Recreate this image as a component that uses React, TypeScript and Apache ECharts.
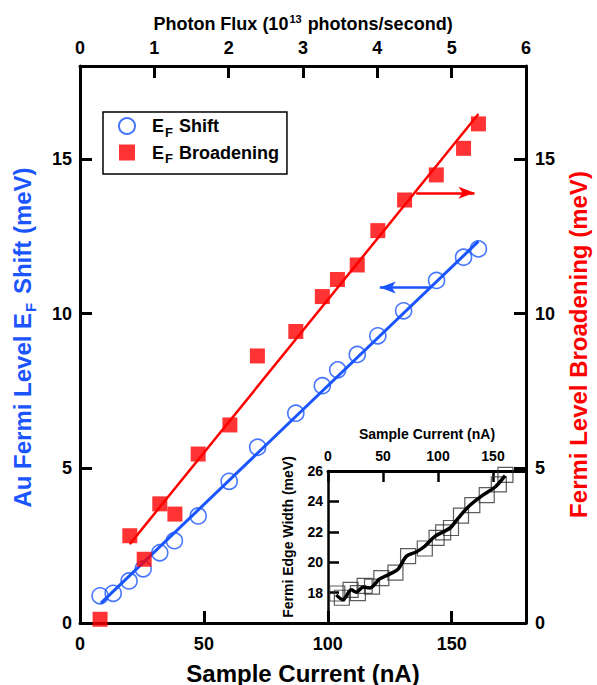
import React, { useEffect, useRef } from 'react';
import * as echarts from 'echarts';

// ---- data ----
// main panel: sample current (nA)
const shiftCurrent = [8.1, 13.4, 19.8, 25.5, 32.2, 38.1, 47.7, 60.2, 71.7, 87.1, 97.8, 104.0, 111.9, 120.2, 130.6, 143.9, 154.8, 160.8];
const efShift = [0.88, 0.96, 1.36, 1.75, 2.27, 2.66, 3.46, 4.58, 5.68, 6.78, 7.67, 8.18, 8.68, 9.28, 10.09, 11.07, 11.82, 12.09];
const broadeningCurrent = [8.1, 20.1, 25.9, 32.2, 38.3, 47.7, 60.5, 71.6, 87.1, 97.8, 103.9, 111.9, 120.2, 131.0, 143.8, 154.8, 160.8];
const efBroadening = [0.12, 2.82, 2.06, 3.85, 3.52, 5.46, 6.4, 8.63, 9.42, 10.55, 11.1, 11.57, 12.68, 13.67, 14.48, 15.34, 16.13];
// linear fits
const shiftFitX = [8.45, 160.8];
const shiftFitY = [0.64, 12.33];
const broadFitX = [20.1, 160.8];
const broadFitY = [2.55, 16.45];
// arrows pointing at the relevant axis
const shiftArrowX = [141.8, 121.0];
const shiftArrowY = 10.84;
const broadArrowX = [135.7, 159.2];
const broadArrowY = 13.9;
// inset: Fermi edge width (meV)
const insetCurrent = [8.4, 12.6, 20.5, 27.2, 33.3, 40.0, 48.5, 61.3, 72.8, 88.0, 98.7, 104.7, 111.8, 120.9, 131.2, 144.3, 155.3, 161.3];
const edgeWidth = [17.94, 17.66, 18.18, 17.96, 18.44, 18.39, 18.95, 19.32, 20.40, 20.90, 21.60, 21.96, 22.25, 23.06, 23.76, 24.41, 25.12, 25.75];
const trendCurrent = [7.5, 13.5, 21.2, 25.7, 31.8, 37.9, 47.0, 57.7, 63.7, 71.4, 80.5, 88.0, 97.2, 110.9, 118.4, 127.6, 139.8, 151.9, 161.0];
const trendWidth = [17.85, 17.53, 18.18, 18.03, 18.35, 18.31, 18.9, 19.28, 19.54, 20.40, 20.69, 21.05, 21.7, 22.25, 22.9, 23.65, 24.36, 24.95, 25.7];

const FONT = "'Liberation Sans', Arial, Helvetica, sans-serif";
const BLUE = '#1a55ff';
const RED = '#ff0000';

const zip = (xs: number[], ys: number[]) => xs.map((x, i) => [x, ys[i]]);

export default function App() {
  const ref = useRef<HTMLDivElement>(null);
  useEffect(() => {
    const chart = echarts.init(ref.current!, null, { renderer: 'svg' });
    const axisLine = (w: number) => ({ show: true, onZero: false, lineStyle: { color: '#000', width: w } });
    const tick = (len: number, w: number) => ({ show: true, inside: true, length: len, lineStyle: { color: '#000', width: w } });
    const lbl = (size: number, margin: number, fmt: (v: number) => string) => ({
      show: true, color: '#000', fontSize: size, fontWeight: 'bold', fontFamily: FONT, margin, formatter: fmt,
      showMinLabel: true, showMaxLabel: true,
    });
    const big = { fontSize: 24, fontWeight: 'bold', fontFamily: FONT };
    const option: any = {
      animation: false,
      backgroundColor: '#fff',
      textStyle: { fontFamily: FONT },
      grid: [
        { left: 80, top: 66, width: 446, height: 557, outerBoundsMode: 'none', containLabel: false },
        { left: 328, top: 471, width: 198, height: 152, outerBoundsMode: 'none', containLabel: false },
      ],
      xAxis: [
        {
          gridIndex: 0, type: 'value', position: 'bottom', min: 0, max: 180, interval: 50,
          axisLine: axisLine(3), axisTick: tick(12, 3), splitLine: { show: false },
          axisLabel: lbl(18, 12, (v) => (v % 50 === 0 ? String(v) : '')),
          name: 'Sample Current (nA)', nameLocation: 'middle', nameGap: 38, nameMoveOverlap: false,
          nameTextStyle: { ...big, color: '#000' },
        },
        {
          gridIndex: 0, type: 'value', position: 'top', min: 0, max: 6, interval: 1,
          axisLine: axisLine(3), axisTick: tick(12, 3), splitLine: { show: false },
          axisLabel: lbl(18, 9, (v) => String(v)),
          name: '{a|Photon Flux (10}{p|13}{a| photons/second)}', nameLocation: 'middle', nameGap: 32, nameMoveOverlap: false,
          nameTextStyle: {
            color: '#000',
            rich: {
              a: { fontSize: 18, fontWeight: 'bold', fontFamily: FONT, color: '#000' },
              p: { fontSize: 11, fontWeight: 'bold', fontFamily: FONT, color: '#000', padding: [0, 1, 10, 1] },
            },
          },
        },
        {
          gridIndex: 1, type: 'value', position: 'top', min: 0, max: 180, interval: 50,
          axisLine: axisLine(3), axisTick: tick(11, 2.5), splitLine: { show: false },
          axisLabel: lbl(14, 8, (v) => (v % 50 === 0 ? String(v) : '')),
          name: 'Sample Current (nA)', nameLocation: 'middle', nameGap: 30, nameMoveOverlap: false,
          nameTextStyle: { fontSize: 14, fontWeight: 'bold', fontFamily: FONT, color: '#000' },
        },
      ],
      yAxis: [
        {
          gridIndex: 0, type: 'value', position: 'left', min: 0, max: 18, interval: 5,
          axisLine: axisLine(3), axisTick: tick(12, 3), splitLine: { show: false },
          axisLabel: lbl(18, 8, (v) => (v % 5 === 0 ? String(v) : '')),
          name: '{a|Au Fermi Level E}{s|F}{a| Shift (meV)}', nameLocation: 'middle', nameGap: 42, nameMoveOverlap: false,
          nameTextStyle: {
            color: BLUE, padding: [0, 0, 0, 14],
            rich: {
              a: { ...big, color: BLUE },
              s: { fontSize: 15, fontWeight: 'bold', fontFamily: FONT, color: BLUE, padding: [16, 2, 0, 1] },
            },
          },
        },
        {
          gridIndex: 0, type: 'value', position: 'right', min: 0, max: 18, interval: 5,
          axisLine: axisLine(3), axisTick: tick(12, 3), splitLine: { show: false },
          axisLabel: lbl(18, 9, (v) => (v % 5 === 0 ? String(v) : '')),
          name: 'Fermi Level Broadening (meV)', nameLocation: 'middle', nameGap: 40, nameMoveOverlap: false,
          nameTextStyle: { ...big, color: RED },
        },
        {
          gridIndex: 1, type: 'value', position: 'left', min: 16, max: 26, interval: 2,
          axisLine: axisLine(2.5), axisTick: tick(11, 2.5), splitLine: { show: false },
          axisLabel: lbl(14, 5, (v) => (v >= 18 ? String(v) : '')),
          name: 'Fermi Edge Width (meV)', nameLocation: 'middle', nameGap: 33, nameMoveOverlap: false,
          nameTextStyle: { fontSize: 14, fontWeight: 'bold', fontFamily: FONT, color: '#000', padding: [0, 0, 0, 20] },
        },
      ],
      legend: {
        show: true, orient: 'vertical', left: 103, top: 112, padding: [5, 8, 9, 15], itemGap: 5,
        itemWidth: 40, itemHeight: 16, borderColor: '#000', borderWidth: 1.5, backgroundColor: '#fff',
        selectedMode: false,
        data: [
          { name: 'E_F Shift', icon: 'circle', itemStyle: { color: '#fff', borderColor: BLUE, borderWidth: 2 } },
          { name: 'E_F Broadening', icon: 'path://M0,0L1,0L1,1L0,1Z', itemStyle: { color: RED, borderWidth: 0 } },
        ],
        formatter: (n: string) => (n === 'E_F Shift' ? '{a|E}{s|F}{a| Shift}' : '{a|E}{s|F}{a| Broadening}'),
        textStyle: {
          rich: {
            a: { fontSize: 18, fontWeight: 'bold', fontFamily: FONT, color: '#000', lineHeight: 25 },
            s: { fontSize: 13, fontWeight: 'bold', fontFamily: FONT, color: '#000', padding: [12, 1, 0, 1] },
          },
        },
      },
      series: [
        {
          name: 'shift fit', type: 'line', xAxisIndex: 0, yAxisIndex: 0, data: zip(shiftFitX, shiftFitY),
          symbol: 'none', lineStyle: { color: BLUE, width: 3 }, silent: true, z: 2,
          markLine: {
            silent: true, symbol: ['none', 'arrow'], symbolSize: [9, 16], label: { show: false },
            lineStyle: { color: BLUE, width: 2.5, type: 'solid' }, emphasis: { disabled: true },
            data: [[{ coord: [shiftArrowX[0], shiftArrowY] }, { coord: [shiftArrowX[1], shiftArrowY] }]],
          },
        },
        {
          name: 'broadening fit', type: 'line', xAxisIndex: 0, yAxisIndex: 1, data: zip(broadFitX, broadFitY),
          symbol: 'none', lineStyle: { color: RED, width: 2.5 }, silent: true, z: 2,
          markLine: {
            silent: true, symbol: ['none', 'arrow'], symbolSize: [9, 16], label: { show: false },
            lineStyle: { color: RED, width: 2.5, type: 'solid' }, emphasis: { disabled: true },
            data: [[{ coord: [broadArrowX[0], broadArrowY] }, { coord: [broadArrowX[1], broadArrowY] }]],
          },
        },
        {
          name: 'E_F Shift', type: 'scatter', xAxisIndex: 0, yAxisIndex: 0, data: zip(shiftCurrent, efShift),
          symbol: 'circle', symbolSize: 16, itemStyle: { color: 'rgba(255,255,255,0)', borderColor: BLUE, borderWidth: 1.6 }, z: 3,
        },
        {
          name: 'E_F Broadening', type: 'scatter', xAxisIndex: 0, yAxisIndex: 1, data: zip(broadeningCurrent, efBroadening),
          symbol: 'rect', symbolSize: 15, itemStyle: { color: RED }, z: 3,
        },
        {
          name: 'edge width', type: 'scatter', xAxisIndex: 2, yAxisIndex: 2, data: zip(insetCurrent, edgeWidth),
          symbol: 'rect', symbolSize: 15, itemStyle: { color: 'rgba(255,255,255,0)', borderColor: '#333', borderWidth: 1.2 }, z: 3,
        },
        {
          name: 'edge trend', type: 'line', xAxisIndex: 2, yAxisIndex: 2, data: zip(trendCurrent, trendWidth),
          symbol: 'none', smooth: 0.3, lineStyle: { color: '#000', width: 3.5 }, z: 4,
        },
      ],
    };
    chart.setOption(option);
    return () => chart.dispose();
  }, []);
  return <div ref={ref} style={{ position: 'absolute', left: 0, top: 0, width: 597, height: 685 }} />;
}
